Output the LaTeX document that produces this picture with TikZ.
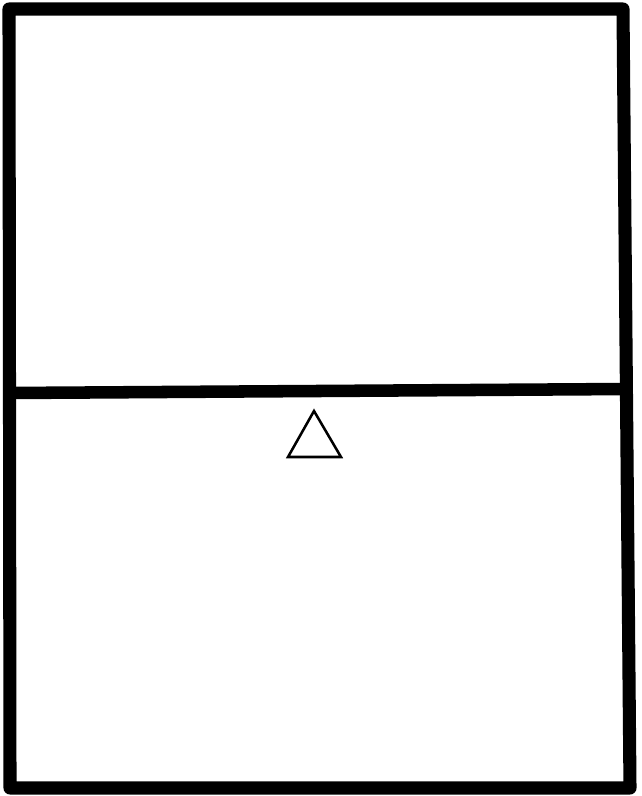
\documentclass[tikz,border=0pt]{standalone}
\usetikzlibrary{calc}
\definecolor{cblack}{HTML}{000000}
\tikzset{
  frame/.style={draw=cblack, line width=9.8pt, line join=round, line cap=round},
  divider/.style={draw=cblack, line width=9.4pt, line cap=butt},
  tri/.style={draw=cblack, line width=1.9pt, line join=miter, fill=white},
}

\begin{document}
\begin{tikzpicture}[x=0.75pt, y=-0.75pt]
  \useasboundingbox (0,0) rectangle (642,796);
  % outer corners
  \coordinate (tl) at (9,9);
  \coordinate (tr) at (623,9);
  \coordinate (br) at (630,788);
  \coordinate (bl) at (10,788);
  % divider ends
  \coordinate (ml) at (9.5,393);
  \coordinate (mr) at (626.5,389);
  \draw[frame] (tl) -- (tr) -- (br) -- (bl) -- cycle;
  \draw[divider] (ml) -- (mr);
  % small triangle below the divider
  \coordinate (apex) at (314,411);
  \coordinate (baseL) at (288,457);
  \coordinate (baseR) at (341,457);
  \draw[tri] (apex) -- (baseR) -- (baseL) -- cycle;
\end{tikzpicture}
\end{document}
